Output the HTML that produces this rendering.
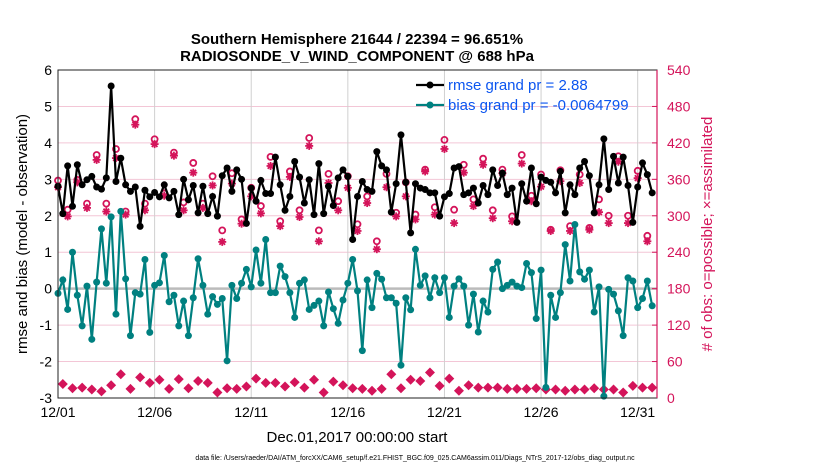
<!DOCTYPE html>
<html><head><meta charset="utf-8"><style>
body{margin:0;background:#fff;width:830px;height:470px;overflow:hidden}
svg{display:block;font-family:"Liberation Sans",sans-serif}
</style></head><body>
<svg id="chart" width="830" height="470" viewBox="0 0 830 470"></svg>
<script>
const rmse=[2.81,2.06,3.37,2.26,3.4,2.85,2.99,3.08,2.79,2.73,3.04,5.56,2.94,3.58,2.85,2.67,2.79,1.71,2.7,2.52,2.64,2.52,2.85,2.49,2.67,2.03,3.0,2.44,2.83,2.08,2.81,2.06,
2.53,1.99,3.1,3.31,2.67,3.26,3.0,1.79,2.76,2.4,2.97,2.61,2.61,3.61,2.85,2.15,2.53,3.49,3.06,2.35,2.99,2.03,3.43,2.06,2.81,2.28,3.04,3.26,3.08,1.35,2.53,
2.94,2.72,2.67,3.76,3.37,3.26,2.1,2.88,4.22,2.92,1.53,2.88,2.76,2.72,2.63,2.63,1.99,2.52,2.61,3.31,3.35,2.58,2.63,2.76,2.35,2.83,2.58,3.26,2.83,3.17,2.58,
2.76,1.82,2.88,2.4,3.31,2.33,3.06,2.97,2.92,2.63,3.22,2.08,2.85,2.58,3.31,3.49,3.1,2.08,2.85,4.11,2.72,3.63,2.9,3.61,2.83,1.82,2.79,3.45,3.13,2.63];
const bias=[-0.13,0.24,-0.57,1.0,-0.18,-1.02,0.07,-1.39,0.18,1.64,0.15,1.97,-0.7,2.12,0.27,-1.29,-0.11,-0.15,0.8,-1.2,0.09,0.16,0.91,-0.36,-0.18,-1.02,-0.34,-1.29,-0.25,0.82,0.09,-0.7,
-0.22,-0.43,-0.27,-1.98,0.09,-0.27,0.15,0.53,0.05,1.06,0.15,1.35,-0.11,-0.11,0.62,0.33,-0.11,-0.79,0.15,0.24,-0.57,-0.46,-0.34,-1.02,-0.09,-0.55,-0.95,-0.31,0.15,0.8,-0.06,
-1.7,0.24,-0.52,0.42,0.26,-0.25,-0.25,-0.4,-2.1,-0.25,-0.58,1.08,0.09,0.35,-0.25,0.3,-0.11,0.3,-0.79,0.07,0.27,0.07,-1.0,-0.15,-1.19,-0.34,-0.64,0.53,0.73,0.0,0.09,
0.18,0.07,0.03,0.69,0.44,-0.82,0.51,-2.71,-0.18,-0.79,-0.11,1.21,0.21,1.76,0.46,0.26,0.51,-0.64,0.05,-2.95,-0.02,-0.15,-0.61,-1.29,0.3,0.21,-0.52,-0.27,0.21,-0.47];
const possHigh=[358,310,359,320,400,320,410,307,459,320,426,337,404,322,387,320,365,276,370,294,346,316,397,291,373,309,428,276,369,324,365,286,332,258,369,305,355,302,376,314,425,310,384,327,394,309,376,299,400,333,368,277,375,283,368,280,327,300,398,300,374,267];
const assimHigh=[347,299,355,313,392,307,395,302,450,309,418,333,399,309,371,313,350,257,353,287,332,304,382,283,364,298,415,258,354,309,346,275,321,245,347,299,332,294,373,302,410,288,371,316,384,296,370,291,386,324,348,275,357,275,354,277,306,288,389,288,362,258];
const obsLow=[23,16,17,14,11,21,39,15,34,25,30,15,31,16,28,25,9,16,15,19,32,25,25,19,26,17,30,9,27,21,16,15,12,15,39,16,30,28,42,20,32,12,21,17,17,17,15,15,15,16,14,14,12,14,14,16,14,14,9,20,17,17];
const xTicks=["12/01","12/06","12/11","12/16","12/21","12/26","12/31"];
const yTicks=[-3,-2,-1,0,1,2,3,4,5,6];
const rTicks=[0,60,120,180,240,300,360,420,480,540];

const L=58,R=657,T=70,B=398, NS="http://www.w3.org/2000/svg";
const xs=i=>L+(i/4)*(R-L)/31;
const yl=v=>B-(v+3)/9*(B-T);
const yr=v=>B-v/540*(B-T);
const svg=document.getElementById('chart');
function mk(tag,a,parent){const e=document.createElementNS(NS,tag);for(const k in a)e.setAttribute(k,a[k]);(parent||svg).appendChild(e);return e;}
const MAG="#d4145a",TEAL="#008080";
mk('rect',{x:L,y:T,width:R-L,height:B-T,fill:'#fff'});
yTicks.forEach(v=>{const g=mk('line',{x1:L,x2:R,y1:yl(v),y2:yl(v),stroke:'#f3c6d6','stroke-width':1});

});
xTicks.forEach((t,k)=>{const x=xs(k*20);
const g=mk('line',{x1:x,x2:x,y1:T,y2:B,stroke:'#d0d0d0','stroke-width':1});


const tx=mk('text',{x:x,y:B+19,'text-anchor':'middle','font-size':14});tx.textContent=t;

});
const z=mk('line',{x1:L,x2:R,y1:yl(0),y2:yl(0),stroke:'#bbb','stroke-width':2.5});


yTicks.forEach(v=>{const tx=mk('text',{x:L-6,y:yl(v)+5,'text-anchor':'end','font-size':14});tx.textContent=v;

});
rTicks.forEach(v=>{const tx=mk('text',{x:R+10,y:yr(v)+5,'font-size':14,fill:MAG});tx.textContent=v;


mk('line',{x1:R-5,x2:R,y1:yr(v),y2:yr(v),stroke:MAG});});
// obs markers
function star(x,y,p){const g=mk('g',{stroke:MAG,'stroke-width':1.8},p);
for(let a=0;a<4;a++){const an=a*Math.PI/4;mk('line',{x1:x-4*Math.cos(an),y1:y-4*Math.sin(an),x2:x+4*Math.cos(an),y2:y+4*Math.sin(an)},g);}
return g;}
const obsG=mk('g',{});


possHigh.forEach((v,k)=>{const c=mk('circle',{cx:xs(2*k),cy:yr(v),r:3,fill:'none',stroke:MAG,'stroke-width':1.8},obsG);

});
assimHigh.forEach((v,k)=>{const s=star(xs(2*k),yr(v),obsG);

});
obsLow.forEach((v,k)=>{const x=xs(2*k+1),y=yr(v);
const d=mk('path',{d:`M${x} ${y-5}L${x+5} ${y}L${x} ${y+5}L${x-5} ${y}Z`,fill:MAG},obsG);

});
function series(arr,col,name){const g=mk('g',{});


mk('polyline',{points:arr.map((v,i)=>xs(i)+','+yl(v)).join(' '),fill:'none',stroke:col,'stroke-width':2.2},g);
arr.forEach((v,i)=>{const c=mk('circle',{cx:xs(i),cy:yl(v),r:3.5,fill:col},g);

});}
series(bias,TEAL,'bias-series');
series(rmse,'#000','rmse-series');
mk('rect',{x:L,y:T,width:R-L,height:B-T,fill:'none',stroke:'#222','stroke-width':1});
mk('line',{x1:R,x2:R,y1:T,y2:B,stroke:MAG,'stroke-width':1.2});
// legend
[[rmse,'#000','rmse grand pr = 2.88',90],[bias,TEAL,'bias grand pr = -0.0064799',110]].forEach(([a,c,t,y])=>{
const g=mk('g',{});


mk('line',{x1:416,x2:444,y1:y-5,y2:y-5,stroke:c,'stroke-width':2.2},g);
mk('circle',{cx:430,cy:y-5,r:3.5,fill:c},g);
const tx=mk('text',{x:448,y:y,'font-size':15,fill:'#0b55f0'},g);tx.textContent=t;});
</script>
<svg style="position:absolute;left:0;top:0" width="830" height="470">
<text x="357" y="44" text-anchor="middle" font-size="15" font-weight="bold" font-family="Liberation Sans,sans-serif">Southern Hemisphere 21644 / 22394 = 96.651%</text>
<text x="357" y="61" text-anchor="middle" font-size="15" font-weight="bold" font-family="Liberation Sans,sans-serif">RADIOSONDE_V_WIND_COMPONENT @ 688 hPa</text>
<text transform="translate(27,234) rotate(-90)" text-anchor="middle" font-size="15" font-family="Liberation Sans,sans-serif">rmse and bias (model - observation)</text>
<text transform="translate(712,234) rotate(-90)" text-anchor="middle" font-size="15" fill="#d4145a" font-family="Liberation Sans,sans-serif"># of obs: o=possible; ×=assimilated</text>
<text x="357" y="442" text-anchor="middle" font-size="15" font-family="Liberation Sans,sans-serif">Dec.01,2017 00:00:00 start</text>
<text x="415" y="460" text-anchor="middle" font-size="7" font-family="Liberation Sans,sans-serif">data file: /Users/raeder/DAI/ATM_forcXX/CAM6_setup/f.e21.FHIST_BGC.f09_025.CAM6assim.011/Diags_NTrS_2017-12/obs_diag_output.nc</text>
</svg>
</body></html>
